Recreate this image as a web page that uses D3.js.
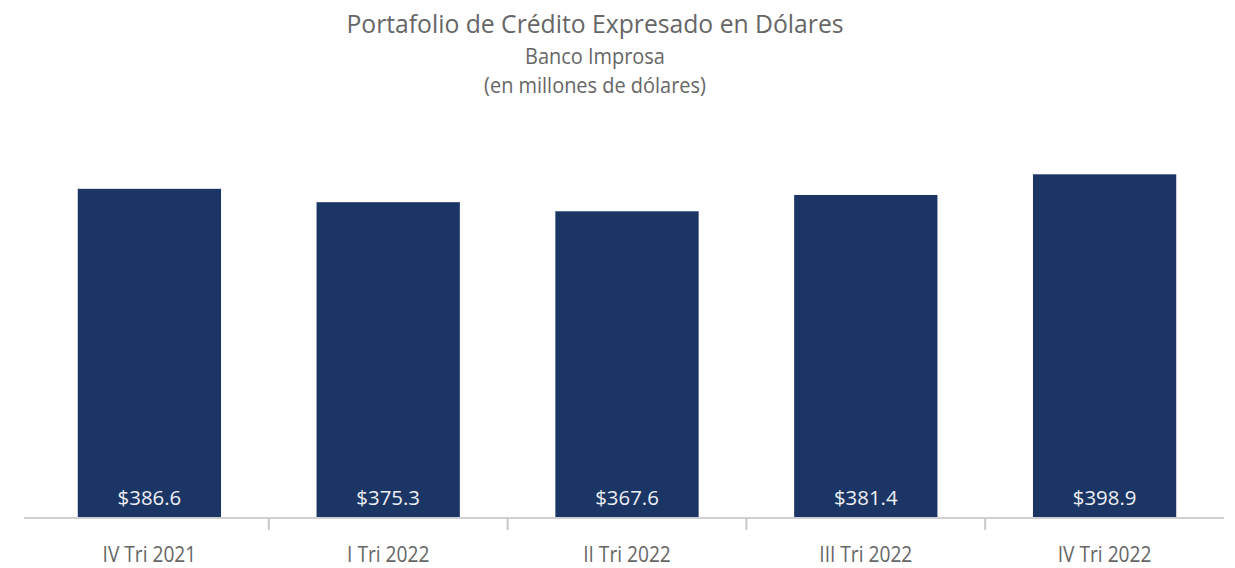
<!DOCTYPE html>
<html>
<head>
<meta charset="utf-8">
<script src="https://d3js.org/d3.v7.min.js"></script>
<style>
  body { margin: 0; background: #fff; }
  text { font-family: "Open Sans", sans-serif; }
</style>
</head>
<body>
<svg width="1235" height="568"></svg>
<script>
// data
var quarters = ["IV Tri 2021", "I Tri 2022", "II Tri 2022", "III Tri 2022", "IV Tri 2022"];
var values = [386.6, 375.3, 367.6, 381.4, 398.9];
var title = "Portafolio de Crédito Expresado en Dólares";
var subtitles = ["Banco Improsa", "(en millones de dólares)"];

var svg = d3.select("svg");
var base = 518;

// squeeze a text selection horizontally (original font is narrow)
function narrow(sel, k) {
  sel.each(function() {
    var w = this.getComputedTextLength();
    d3.select(this).attr("textLength", w * k).attr("lengthAdjust", "spacingAndGlyphs");
  });
}

var x = d3.scaleBand().domain(quarters).range([30, 1224]).paddingInner(0.4).paddingOuter(0.2);
var y = d3.scaleLinear().domain([108, 400]).range([base, 173]);

// titles
svg.append("text")
  .attr("x", 595).attr("y", 33)
  .attr("text-anchor", "middle")
  .style("font-size", "26px")
  .style("fill", "#666")
  .text(title)
  .call(narrow, 0.95);

svg.selectAll(".sub")
  .data(subtitles)
  .enter().append("text")
  .attr("class", "sub")
  .attr("x", 595)
  .attr("y", function(d, i) { return 64 + i * 29; })
  .attr("text-anchor", "middle")
  .style("font-size", "21px")
  .style("fill", "#666")
  .text(function(d) { return d; })
  .call(narrow, 0.95);

// bars
svg.selectAll("rect.bar")
  .data(values)
  .enter().append("rect")
  .attr("class", "bar")
  .attr("x", function(d, i) { return x(quarters[i]); })
  .attr("width", x.bandwidth())
  .attr("y", function(d) { return y(d); })
  .attr("height", function(d) { return base - y(d); })
  .style("fill", "#1b3564");

// value labels inside bars
svg.selectAll("text.val")
  .data(values)
  .enter().append("text")
  .attr("class", "val")
  .attr("x", function(d, i) { return x(quarters[i]) + x.bandwidth() / 2; })
  .attr("y", 505)
  .attr("text-anchor", "middle")
  .style("font-size", "20px")
  .style("fill", "#eef0f6")
  .text(function(d) { return "$" + d.toFixed(1); })
  .call(narrow, 1.02);

// x axis: line with ticks between categories
var step = x.step();
var g = svg.append("g").attr("transform", "translate(0," + base + ")");

g.append("line")
  .attr("x1", 24).attr("x2", 1224)
  .attr("stroke", "#d0d0d0").attr("stroke-width", 2);

g.selectAll("line.sep")
  .data(quarters.slice(1))
  .enter().append("line")
  .attr("class", "sep")
  .attr("x1", function(d) { return x(d) - x.paddingInner() * step / 2; })
  .attr("x2", function(d) { return x(d) - x.paddingInner() * step / 2; })
  .attr("y1", 0).attr("y2", 12)
  .attr("stroke", "#c8c8c8").attr("stroke-width", 2);

svg.selectAll("text.cat")
  .data(quarters)
  .enter().append("text")
  .attr("class", "cat")
  .attr("x", function(d) { return x(d) + x.bandwidth() / 2; })
  .attr("y", 562)
  .attr("text-anchor", "middle")
  .style("font-size", "22px")
  .style("fill", "#666")
  .text(function(d) { return d; })
  .call(narrow, 0.87);
</script>
</body>
</html>
